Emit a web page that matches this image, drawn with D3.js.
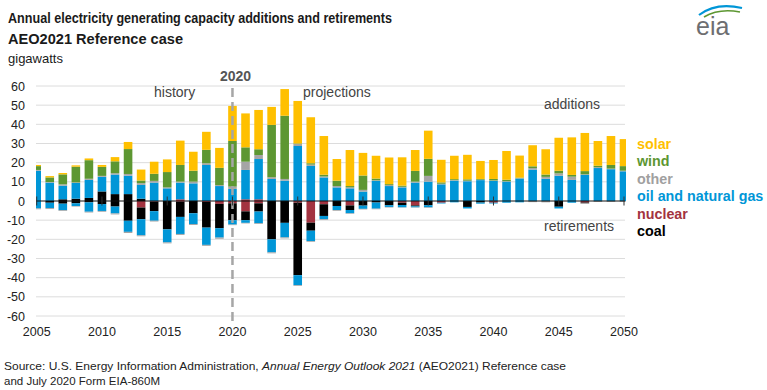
<!DOCTYPE html>
<html><head><meta charset="utf-8">
<script src="https://cdn.jsdelivr.net/npm/d3@7"></script>
<style>
html,body{margin:0;padding:0;background:#fff;}
svg{display:block;font-family:"Liberation Sans",Arial,sans-serif;}
</style></head>
<body>
<svg id="chart" width="767" height="390"></svg>
<script>
const years = [2005,2006,2007,2008,2009,2010,2011,2012,2013,2014,2015,2016,2017,2018,2019,2020,2021,2022,2023,2024,2025,2026,2027,2028,2029,2030,2031,2032,2033,2034,2035,2036,2037,2038,2039,2040,2041,2042,2043,2044,2045,2046,2047,2048,2049,2050];
// additions (GW)
const addNuclear = [0,0,0,0,0,0,0,0,0,0,0,0.9,0,0,0,0,0.9,0.9,0,0,0,0,0,0,0,0,0,0,0,0,0,0,0,0,0,0,0,0,0,0,0,0,0,0,0,0];
const addCoal    = [0,0,0.9,1.2,1.6,5.0,3.6,3.6,1.2,0,0,0,0,0,0,0,0,0,0,0,0,0,0,0,0,0,0,0,0,0,0,0,0,0,0,0,0,0,0,0,0,0,0,0,0,0];
const addGas     = [15.8,9.6,7.1,8.2,9.4,7.6,10.2,9.6,7.2,9.6,6.6,8.7,9.2,18.8,7.8,6.3,15.3,21.0,11.5,10.6,28.7,18.3,12.3,7.1,6.6,4.9,10.5,7.8,7.1,9.6,10.1,8.7,10.6,10.3,10.9,10.5,10.1,11.7,16.4,11.6,13.2,11.0,13.6,17.2,16.6,15.5];
const addOther   = [0.4,0.3,0.7,0.3,0.6,0.5,0.7,0.9,0.9,0.9,0.5,0.5,0.9,0.9,0.5,1.2,4.3,2.1,0.9,0.9,1.0,0.7,0.5,0.7,0.5,0.9,0.3,0.5,0.3,0.5,3.0,0.3,0.3,0.3,0.2,0.2,0.2,0.2,0.8,1.0,1.2,1.7,0.3,0.4,0.3,0.3];
const addWind    = [2.0,2.4,5.2,8.2,9.7,4.7,6.2,13.0,1.4,3.7,8.0,8.7,5.7,7.0,9.0,23.8,7.5,3.0,27.3,33.0,0.3,0.7,0.9,2.8,0.7,7.5,0.9,0.5,0.6,5.6,8.9,0.7,0.5,0.7,0.4,0.8,0.8,0.3,0.9,1.2,1.4,0.9,1.7,0.8,1.9,2.4];
const addSolar   = [0.6,0.7,0.7,0.7,0.9,1.0,2.2,3.7,5.7,6.3,6.6,12.7,9.9,9.4,10.4,18.3,17.7,20.5,9.4,13.9,22.2,24.0,20.2,11.3,18.8,11.8,11.9,13.9,14.8,10.9,14.7,11.8,12.2,12.8,9.4,9.9,15.0,11.5,11.0,13.2,17.2,19.6,19.9,12.9,15.1,14.1];
// retirements (GW, shown below zero)
const retNuclear = [0,0,0,0,0,0,0,0,3.4,0.3,0,0.4,0,0.5,1.5,1.2,5.4,1.2,0,0,0.9,11.3,1.7,0,2.3,0,0,0,0.9,2.3,0,0.9,0,0,0,0.9,0,0,0,0,0,0,0.8,0,0,0];
const retCoal    = [0,0.9,1.4,1.2,0.7,1.6,2.9,10.3,6.1,5.0,14.8,7.9,6.4,13.4,12.7,8.8,4.6,4.3,20.0,11.4,37.8,4.2,6.1,2.6,2.4,2.4,0.8,2.2,1.2,0.5,2.2,0,0,3.1,0.8,0,0,0,0,0,3.0,0,0.4,0,0,0];
const retGas     = [3.9,2.8,3.4,1.4,4.9,3.6,3.6,5.8,8.4,5.0,6.8,8.9,5.6,9.0,4.9,2.3,1.4,6.1,6.8,7.6,5.2,5.4,1.7,2.1,1.7,1.7,3.2,0.9,1.2,0.5,1.1,0.4,0.7,0.8,0.6,0.4,0.9,0.7,0,0,0.9,0.9,0,0,0,0];
const retOther   = [0.4,0.5,0.4,0.3,0.4,0.4,0.5,0.6,0.5,0.4,0.5,0.5,0.5,0.5,0.6,0.3,0.3,0.4,0.5,0.5,0.4,0.4,0.4,0.4,0.3,0.3,0.3,0.3,0.2,0.2,0.3,0,0,0,0,0,0,0,0.6,0.7,0,0,0.2,0.5,0.5,0.4];

const yTicks = [60,50,40,30,20,10,0,-10,-20,-30,-40,-50,-60];
const xTickYears = [2005,2010,2015,2020,2025,2030,2035,2040,2045,2050];

const legendItems = [
  {label:"solar", color:"#ffc000"},
  {label:"wind", color:"#5d9732"},
  {label:"other", color:"#a0a0a0"},
  {label:"oil and natural gas", color:"#0096d7"},
  {label:"nuclear", color:"#a33340"},
  {label:"coal", color:"#000000"}
];

const colors = {
  aNuc:"#a33340", aCoal:"#000000", aGas:"#0096d7", aOther:"#a5a5a5", aWind:"#5d9732", aSolar:"#ffc000",
  rNuc:"#a33340", rCoal:"#000000", rGas:"#0096d7", rOther:"#a5a5a5"
};

const rows = years.map((y,i)=>({
  year:y,
  aNuc:addNuclear[i], aCoal:addCoal[i], aGas:addGas[i], aOther:addOther[i], aWind:addWind[i], aSolar:addSolar[i],
  rNuc:-retNuclear[i], rCoal:-retCoal[i], rGas:-retGas[i], rOther:-retOther[i]
}));
const keys = ["aNuc","aCoal","aGas","aOther","aWind","aSolar","rNuc","rCoal","rGas","rOther"];
const series = d3.stack().keys(keys).offset(d3.stackOffsetDiverging)(rows);

const svg = d3.select("#chart");
const plotL = 36, plotR = 625;
const x = d3.scaleLinear().domain([2005,2050]).range([36.7,624]);
const y = d3.scaleLinear().domain([-60,60]).range([316,86]);
const barW = 8.6;

// title
svg.append("text").attr("x",8).attr("y",23).attr("font-size",15.5).attr("font-weight","bold").attr("fill","#1a1a1a")
  .attr("textLength",384).attr("lengthAdjust","spacingAndGlyphs")
  .text("Annual electricity generating capacity additions and retirements");
svg.append("text").attr("x",8).attr("y",44).attr("font-size",15.5).attr("font-weight","bold").attr("fill","#1a1a1a")
  .attr("textLength",175).attr("lengthAdjust","spacingAndGlyphs")
  .text("AEO2021 Reference case");
svg.append("text").attr("x",8).attr("y",63).attr("font-size",13).attr("fill","#1a1a1a")
  .attr("textLength",55).attr("lengthAdjust","spacingAndGlyphs")
  .text("gigawatts");

// gridlines
svg.append("g").selectAll("line").data(yTicks.filter(d=>d!==0)).join("line")
  .attr("x1",plotL).attr("x2",plotR).attr("y1",d=>y(d)).attr("y2",d=>y(d))
  .attr("stroke","#dcdcdc").attr("stroke-width",1);

// y labels
svg.append("g").selectAll("text").data(yTicks).join("text")
  .attr("x",25).attr("y",d=>y(d)+4.5).attr("text-anchor","end").attr("font-size",12.5).attr("fill","#222")
  .text(d=>d);

// x labels
svg.append("g").selectAll("text").data(xTickYears).join("text")
  .attr("x",d=>x(d)).attr("y",336).attr("text-anchor","middle").attr("font-size",12.5).attr("fill","#222")
  .text(d=>d);

// bars
svg.append("defs").append("clipPath").attr("id","clip").append("rect")
  .attr("x",plotL).attr("y",0).attr("width",plotR-plotL+1).attr("height",390);
const gb = svg.append("g").attr("clip-path","url(#clip)");
gb.selectAll("g").data(series).join("g").attr("fill",d=>colors[d.key])
  .selectAll("rect").data(d=>d).join("rect")
  .attr("x",d=>x(d.data.year)-barW/2).attr("width",barW)
  .attr("y",d=>y(Math.max(d[0],d[1])))
  .attr("height",d=>Math.abs(y(d[0])-y(d[1])));

// dashed 2020 line
svg.append("line").attr("x1",x(2020)).attr("x2",x(2020)).attr("y1",88).attr("y2",322)
  .attr("stroke","#a6a6a6").attr("stroke-width",2.5).attr("stroke-dasharray","9,5");

// zero line + ticks
svg.append("line").attr("x1",plotL).attr("x2",plotR).attr("y1",y(0)).attr("y2",y(0)).attr("stroke","#111").attr("stroke-width",1);
svg.append("g").selectAll("line").data(xTickYears).join("line")
  .attr("x1",d=>x(d)).attr("x2",d=>x(d)).attr("y1",y(0)-4.5).attr("y2",y(0)+4.5)
  .attr("stroke","#333").attr("stroke-width",1);

// annotations
svg.append("text").attr("x",x(2020)+3).attr("y",81).attr("text-anchor","middle").attr("font-size",14).attr("font-weight","bold").attr("fill","#555").text("2020");
svg.append("text").attr("x",154).attr("y",97).attr("font-size",14).attr("fill","#444").text("history");
svg.append("text").attr("x",303).attr("y",97).attr("font-size",14).attr("fill","#444").text("projections");
svg.append("text").attr("x",544).attr("y",109).attr("font-size",14).attr("fill","#444").text("additions");
svg.append("text").attr("x",544).attr("y",231).attr("font-size",14).attr("fill","#444").text("retirements");

// legend
svg.append("g").selectAll("text").data(legendItems).join("text")
  .attr("x",637).attr("y",(d,i)=>149+i*17.4).attr("font-size",14.3).attr("font-weight","bold")
  .attr("fill",d=>d.color).text(d=>d.label);

// source
const src = svg.append("text").attr("x",4).attr("y",370).attr("font-size",11.5).attr("fill","#222")
  .attr("textLength",562).attr("lengthAdjust","spacingAndGlyphs");
src.append("tspan").text("Source: U.S. Energy Information Administration, ");
src.append("tspan").attr("font-style","italic").text("Annual Energy Outlook 2021");
src.append("tspan").text(" (AEO2021) Reference case");
svg.append("text").attr("x",4).attr("y",385).attr("font-size",11.5).attr("fill","#222")
  .attr("textLength",156).attr("lengthAdjust","spacingAndGlyphs")
  .text("and July 2020 Form EIA-860M");

// eia logo
const logo = svg.append("g");
logo.append("path").attr("d","M699,15 Q716,2 742,8").attr("fill","none").attr("stroke","#0096d7").attr("stroke-width",2.2);
logo.append("path").attr("d","M704,17 Q719,8 740,12").attr("fill","none").attr("stroke","#5d9732").attr("stroke-width",1.6);
logo.append("text").attr("x",696).attr("y",35).attr("font-size",25).attr("fill","#6d6e71").attr("font-family","'Liberation Sans',Arial,sans-serif").text("eia");
</script>
</body></html>
